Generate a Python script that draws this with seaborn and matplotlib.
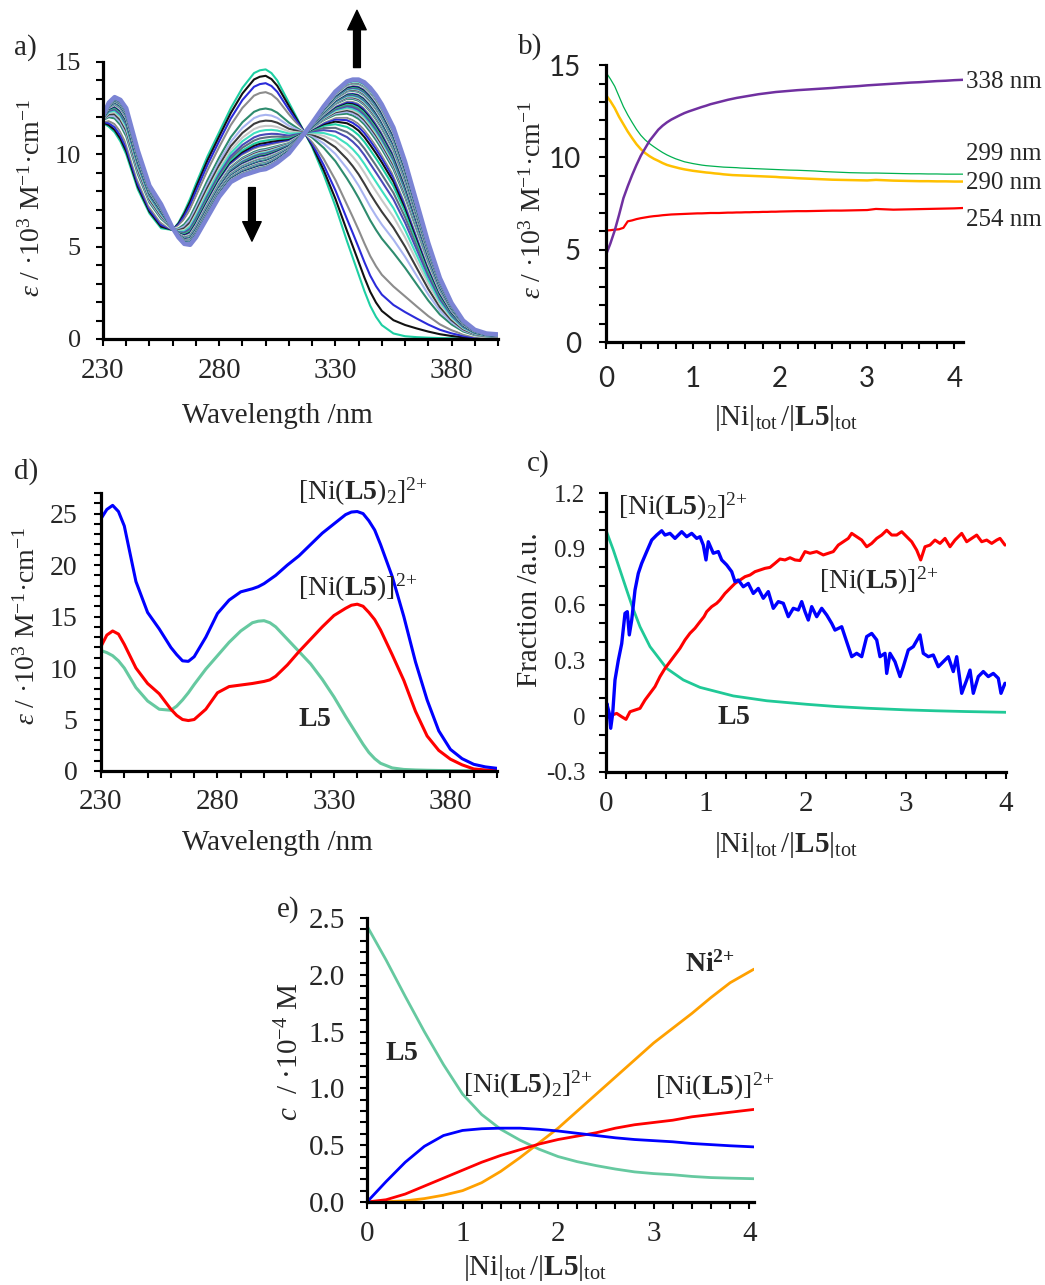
import numpy as np
import pandas as pd
import matplotlib
matplotlib.use("Agg")
import matplotlib.pyplot as plt
import seaborn as sns
from matplotlib.ticker import MultipleLocator, FuncFormatter

sns.set_style("ticks")
plt.rcParams["font.family"] = ["Liberation Serif", "DejaVu Serif"]
plt.rcParams["mathtext.fontset"] = "custom"
plt.rcParams["mathtext.rm"] = "Liberation Serif"
plt.rcParams["mathtext.it"] = "Liberation Serif:italic"
plt.rcParams["mathtext.bf"] = "Liberation Serif:bold"
plt.rcParams["axes.unicode_minus"] = False

# ---- spectra (wavelength, nm) ----
wl = [230, 232.5, 235, 237.5, 240, 245, 250, 255, 260, 262.5, 265, 267.5, 270, 275, 280, 285,
      290, 295, 297.5, 300, 302.5, 305, 310, 315, 320, 325, 330, 335, 337.5, 340, 342.5, 345,
      347.5, 350, 355, 360, 365, 370, 375, 380, 385, 390, 395, 400]

# free ligand L5
eps_L5 = [11.7, 11.5, 11.2, 10.7, 10.0, 8.1, 6.8, 6.0, 5.9, 6.3, 6.9, 7.6, 8.4, 9.9, 11.2, 12.5,
          13.6, 14.4, 14.55, 14.6, 14.4, 14.0, 12.8, 11.6, 10.4, 8.9, 7.2, 5.3, 4.4, 3.5, 2.6,
          1.8, 1.2, 0.75, 0.3, 0.15, 0.1, 0.07, 0.05, 0.04, 0.03, 0.02, 0.02, 0.01]
# last spectrum of the titration (panel a)
eps_end = [12.1, 12.8, 13.1, 12.95, 12.5, 10.2, 8.3, 7.3, 6.0, 5.5, 5.15, 5.1, 5.5, 6.6, 7.7,
           8.5, 8.85, 9.05, 9.15, 9.2, 9.35, 9.55, 10.05, 10.85, 11.7, 12.6, 13.4, 13.95, 14.05,
           14.05, 13.9, 13.6, 13.2, 12.7, 11.45, 9.6, 7.4, 5.2, 3.3, 1.95, 1.0, 0.5, 0.3, 0.25]
# [Ni(L5)2]2+
eps_NiL52 = [24.5, 25.4, 25.8, 25.2, 23.8, 18.4, 15.4, 13.8, 12.0, 11.3, 10.7, 10.65, 11.1, 13.0,
             15.3, 16.6, 17.4, 17.7, 17.9, 18.2, 18.6, 19.0, 20.0, 20.9, 22.0, 23.1, 24.0, 24.9,
             25.15, 25.2, 25.0, 24.3, 23.4, 22.0, 18.9, 15.0, 10.6, 6.9, 3.9, 2.1, 1.2, 0.65,
             0.4, 0.26]
# [Ni(L5)]2+
eps_NiL5 = [12.1, 13.2, 13.6, 13.3, 12.3, 10.0, 8.5, 7.5, 6.0, 5.4, 5.0, 4.9, 5.0, 6.0, 7.6, 8.2,
            8.35, 8.5, 8.6, 8.7, 8.85, 9.2, 10.3, 11.6, 12.8, 14.0, 15.1, 15.8, 16.1, 16.2, 16.0,
            15.4, 14.7, 13.7, 11.3, 8.8, 5.8, 3.4, 2.0, 1.15, 0.6, 0.2, 0.1, 0.05]

# ---- titration traces (panel b) ----
ratio_b = [0.0, 0.05, 0.1, 0.15, 0.2, 0.25, 0.3, 0.35, 0.4, 0.45, 0.5, 0.55, 0.6, 0.65, 0.7,
           0.75, 0.8, 0.85, 0.9, 0.95, 1.0, 1.05, 1.1, 1.15, 1.2, 1.25, 1.3, 1.35, 1.4, 1.45,
           1.5, 1.55, 1.6, 1.65, 1.7, 1.75, 1.8, 1.85, 1.9, 1.95, 2.0, 2.1, 2.2, 2.3, 2.4, 2.5,
           2.6, 2.7, 2.8, 2.9, 3.0, 3.1, 3.2, 3.3, 3.4, 3.5, 3.6, 3.7, 3.8, 3.9, 4.0, 4.1]
eps_338 = [4.74, 5.35, 6.05, 6.9, 7.8, 8.45, 9.05, 9.6, 10.1, 10.5, 10.9, 11.2, 11.5, 11.72,
           11.9, 12.05, 12.17, 12.29, 12.4, 12.49, 12.57, 12.65, 12.73, 12.8, 12.88, 12.94, 13.0,
           13.06, 13.12, 13.17, 13.22, 13.26, 13.3, 13.34, 13.38, 13.42, 13.45, 13.48, 13.51,
           13.54, 13.56, 13.6, 13.64, 13.67, 13.7, 13.73, 13.76, 13.8, 13.83, 13.86, 13.9,
           13.93, 13.96, 13.99, 14.02, 14.05, 14.07, 14.1, 14.13, 14.15, 14.18, 14.2]
eps_299 = [14.6, 14.25, 13.85, 13.3, 12.75, 12.3, 11.9, 11.52, 11.2, 10.95, 10.75, 10.58, 10.42,
           10.27, 10.14, 10.03, 9.93, 9.85, 9.77, 9.72, 9.67, 9.63, 9.59, 9.56, 9.54, 9.52, 9.5,
           9.48, 9.47, 9.46, 9.45, 9.43, 9.42, 9.41, 9.4, 9.39, 9.38, 9.37, 9.36, 9.35, 9.34,
           9.32, 9.31, 9.29, 9.27, 9.24, 9.22, 9.2, 9.18, 9.17, 9.16, 9.16, 9.15, 9.14, 9.13,
           9.12, 9.12, 9.11, 9.11, 9.1, 9.1, 9.1]
eps_290 = [13.37, 13.05, 12.67, 12.2, 11.8, 11.4, 11.05, 10.72, 10.45, 10.24, 10.07, 9.93, 9.82,
           9.7, 9.6, 9.53, 9.47, 9.41, 9.36, 9.32, 9.28, 9.25, 9.22, 9.19, 9.17, 9.14, 9.12,
           9.09, 9.07, 9.05, 9.04, 9.03, 9.02, 9.01, 9.0, 8.99, 8.98, 8.97, 8.96, 8.95, 8.93,
           8.91, 8.88, 8.86, 8.84, 8.82, 8.8, 8.79, 8.78, 8.77, 8.76, 8.79, 8.77, 8.75, 8.74,
           8.73, 8.72, 8.72, 8.71, 8.71, 8.7, 8.7]
eps_254 = [6.05, 6.07, 6.1, 6.12, 6.2, 6.55, 6.6, 6.67, 6.72, 6.76, 6.8, 6.83, 6.85, 6.88, 6.9,
           6.92, 6.93, 6.94, 6.95, 6.96, 6.97, 6.98, 6.98, 6.99, 7.0, 7.0, 7.0, 7.01, 7.02, 7.02,
           7.03, 7.03, 7.04, 7.04, 7.05, 7.05, 7.06, 7.06, 7.07, 7.07, 7.08, 7.09, 7.1, 7.1,
           7.11, 7.12, 7.13, 7.13, 7.14, 7.15, 7.16, 7.22, 7.2, 7.18, 7.19, 7.2, 7.21, 7.22,
           7.23, 7.24, 7.25, 7.27]

# ---- resolved fractions (panel c) ----
c_blue_r = [0.0, 0.007, 0.033, 0.047, 0.067, 0.09, 0.123, 0.157, 0.19, 0.213, 0.233, 0.257, 0.29,
            0.323, 0.357, 0.407, 0.457, 0.507, 0.557, 0.59, 0.64, 0.69, 0.757, 0.807, 0.857,
            0.907, 0.94, 0.973, 1.0, 1.023, 1.073, 1.123, 1.157, 1.207, 1.257, 1.29, 1.323,
            1.373, 1.423, 1.473, 1.523, 1.573, 1.623, 1.673, 1.723, 1.773, 1.823, 1.873, 1.923,
            1.957, 1.99, 2.023, 2.057, 2.107, 2.157, 2.207, 2.257, 2.29, 2.357, 2.407, 2.457,
            2.507, 2.557, 2.607, 2.657, 2.707, 2.74, 2.79, 2.807, 2.84, 2.89, 2.94, 2.973, 3.023,
            3.073, 3.14, 3.173, 3.223, 3.273, 3.323, 3.373, 3.423, 3.473, 3.507, 3.557, 3.607,
            3.64, 3.673, 3.723, 3.773, 3.823, 3.873, 3.923, 3.95, 3.99]
c_blue_v = [0.0, 0.07, 0.015, -0.065, 0.015, 0.195, 0.30, 0.39, 0.553, 0.562, 0.437, 0.517, 0.678,
            0.768, 0.822, 0.885, 0.947, 0.974, 0.997, 0.974, 0.983, 0.956, 0.992, 0.965, 0.983,
            0.956, 0.965, 0.92, 0.84, 0.938, 0.876, 0.885, 0.84, 0.813, 0.777, 0.723, 0.732,
            0.696, 0.714, 0.66, 0.687, 0.634, 0.67, 0.58, 0.616, 0.607, 0.535, 0.58, 0.571,
            0.616, 0.562, 0.517, 0.589, 0.535, 0.58, 0.544, 0.499, 0.463, 0.481, 0.40, 0.32,
            0.338, 0.32, 0.428, 0.445, 0.41, 0.32, 0.338, 0.23, 0.338, 0.293, 0.213, 0.266,
            0.356, 0.374, 0.437, 0.338, 0.32, 0.329, 0.266, 0.293, 0.32, 0.24, 0.32, 0.123,
            0.195, 0.248, 0.123, 0.213, 0.24, 0.213, 0.23, 0.204, 0.123, 0.177]
c_red_r = [0.0, 0.057, 0.107, 0.157, 0.2, 0.24, 0.29, 0.34, 0.39, 0.44, 0.49, 0.54, 0.59, 0.64,
           0.69, 0.74, 0.79, 0.84, 0.89, 0.94, 0.98, 1.007, 1.057, 1.107, 1.14, 1.19, 1.24, 1.29,
           1.34, 1.39, 1.44, 1.49, 1.54, 1.59, 1.64, 1.69, 1.74, 1.79, 1.84, 1.89, 1.94, 1.99,
           2.04, 2.107, 2.173, 2.223, 2.273, 2.323, 2.373, 2.423, 2.457, 2.507, 2.557, 2.607,
           2.657, 2.707, 2.757, 2.807, 2.857, 2.907, 2.957, 3.007, 3.057, 3.107, 3.147, 3.19,
           3.24, 3.29, 3.34, 3.39, 3.44, 3.49, 3.557, 3.607, 3.657, 3.707, 3.757, 3.807, 3.857,
           3.907, 3.94, 3.99]
c_red_v = [-0.01, 0.006, 0.015, -0.003, -0.017, 0.024, 0.033, 0.042, 0.087, 0.123, 0.159, 0.213,
           0.257, 0.293, 0.329, 0.365, 0.41, 0.446, 0.473, 0.508, 0.535, 0.562, 0.589, 0.607,
           0.625, 0.66, 0.687, 0.714, 0.732, 0.75, 0.759, 0.777, 0.786, 0.795, 0.80, 0.822,
           0.845, 0.84, 0.852, 0.84, 0.837, 0.885, 0.876, 0.885, 0.867, 0.876, 0.885, 0.92,
           0.938, 0.956, 0.983, 0.965, 0.947, 0.911, 0.929, 0.956, 0.974, 1.0, 0.974, 0.974,
           0.992, 0.965, 0.938, 0.893, 0.84, 0.911, 0.92, 0.947, 0.929, 0.956, 0.911, 0.947,
           0.983, 0.938, 0.956, 0.974, 0.938, 0.947, 0.929, 0.947, 0.956, 0.92]
c_green_r = [0.0, 0.0, 0.073, 0.14, 0.207, 0.263, 0.34, 0.44, 0.607, 0.773, 0.94, 1.273, 1.607,
             2.007, 2.3, 2.607, 3.0, 3.3, 3.6, 4.0]
c_green_v = [0.0, 1.0, 0.894, 0.786, 0.678, 0.589, 0.481, 0.374, 0.257, 0.195, 0.155, 0.109,
             0.083, 0.064, 0.052, 0.043, 0.034, 0.029, 0.025, 0.021]

# ---- speciation (panel e) ----
ratio_e = [0.0, 0.2, 0.4, 0.6, 0.8, 1.0, 1.2, 1.4, 1.6, 1.8, 2.0, 2.2, 2.4, 2.6, 2.8, 3.0, 3.2,
           3.4, 3.6, 3.8, 4.05]
conc_L5 = [2.43, 2.13, 1.81, 1.50, 1.21, 0.95, 0.77, 0.64, 0.545, 0.465, 0.40, 0.355, 0.32, 0.29,
           0.265, 0.25, 0.24, 0.225, 0.215, 0.21, 0.205]
conc_NiL52 = [0.0, 0.18, 0.35, 0.49, 0.585, 0.63, 0.645, 0.65, 0.65, 0.64, 0.625, 0.605, 0.585,
              0.565, 0.55, 0.54, 0.53, 0.515, 0.505, 0.495, 0.485]
conc_NiL5 = [0.0, 0.02, 0.07, 0.14, 0.21, 0.28, 0.35, 0.41, 0.46, 0.51, 0.55, 0.58, 0.61, 0.65,
             0.68, 0.70, 0.72, 0.75, 0.77, 0.79, 0.815]
conc_Ni = [0.0, 0.003, 0.01, 0.03, 0.06, 0.10, 0.17, 0.27, 0.39, 0.52, 0.65, 0.80, 0.95, 1.10,
           1.25, 1.40, 1.53, 1.66, 1.80, 1.93, 2.05]

W, H = 1045, 1285
fig = plt.figure(figsize=(W / 100, H / 100), dpi=100)


def add_axes(l, t, r, b):
    return fig.add_axes([l / W, 1 - b / H, (r - l) / W, (b - t) / H])


def style(ax, xfs, yfs, xpad, ypad):
    for s in ["top", "right"]:
        ax.spines[s].set_visible(False)
    for s in ["left", "bottom"]:
        ax.spines[s].set_linewidth(2.3)
        ax.spines[s].set_color("black")
    ax.tick_params(which="both", direction="out", width=1.5, length=5, color="black")
    ax.tick_params(axis="x", labelsize=xfs, pad=xpad)
    ax.tick_params(axis="y", labelsize=yfs, pad=ypad)


def put_label(ax, axis, text, cx, cy, size):
    p = ax.get_position()
    ax_x = (cx / W - p.x0) / p.width
    ax_y = ((1 - cy / H) - p.y0) / p.height
    if axis == "x":
        ax.set_xlabel(text, fontsize=size, va="center", ha="center")
        ax.xaxis.set_label_coords(ax_x, ax_y)
    else:
        ax.set_ylabel(text, fontsize=size, va="center", ha="center")
        ax.yaxis.set_label_coords(ax_x, ax_y)


def ftext(x, y, s, size=20, **kw):
    fig.text(x / W, 1 - y / H, s, fontsize=size, ha="left", va="center", **kw)


eps_label = r"$\varepsilon$ / ·10$^{3}$ M$^{-1}$·cm$^{-1}$"
ratio_label = r"$|\mathrm{Ni}|_{\mathrm{tot}}\,/|\mathbf{L5}|_{\mathrm{tot}}$"
sp2 = r"[Ni($\mathbf{L5}$)$_{2}$]$^{2{+}}$"
sp1 = r"[Ni($\mathbf{L5}$)]$^{2{+}}$"

# ================= a) =================
ax_a = add_axes(103, 62, 498, 339)
L5 = np.array(eps_L5)
END = np.array(eps_end)
e338 = np.array(eps_338)
frac = (e338 - e338[0]) / (e338[-1] - e338[0])
rows = []
for i, f in enumerate(frac):
    spec = L5 + f * (END - L5)
    for w, e in zip(wl, spec):
        rows.append({"wl": w, "eps": e, "curve": f"c{i:02d}"})
df_a = pd.DataFrame(rows)
cycle = ["#1ecfa3", "#111111", "#2b2bd9", "#8c8c8c", "#ffffff", "#2e8b6e", "#a8b4f0",
         "#3c3c3c", "#c8c8c8", "#3fe0c0", "#4a4ab8", "#607080"]
pal = [cycle[i % len(cycle)] for i in range(len(frac))]
sns.lineplot(data=df_a, x="wl", y="eps", hue="curve", palette=pal, linewidth=1.5,
             legend=False, estimator=None, sort=False, ax=ax_a)
sns.lineplot(x=wl, y=eps_end, color="#7b84d4", linewidth=3.2, estimator=None, ax=ax_a)
ax_a.set_xlim(230, 400)
ax_a.set_ylim(0, 15)
ax_a.set_xticks([230, 280, 330, 380])
ax_a.set_xticks(range(230, 401, 10), minor=True)
ax_a.yaxis.set_major_locator(MultipleLocator(5))
ax_a.yaxis.set_minor_locator(MultipleLocator(1))
style(ax_a, 21, 19, 9, 11)
put_label(ax_a, "x", "Wavelength /nm", 277, 416, 21)
put_label(ax_a, "y", eps_label, 32, 198, 20)
arrow = dict(arrowstyle="simple,head_width=0.95,head_length=1.0,tail_width=0.35",
             color="black", mutation_scale=14, shrinkA=0, shrinkB=0)
ax_a.annotate("", xy=(339.3, 17.8), xytext=(339.3, 14.7), arrowprops=arrow,
              annotation_clip=False)
ax_a.annotate("", xy=(294.1, 5.3), xytext=(294.1, 8.2), arrowprops=arrow,
              annotation_clip=False)
ftext(14, 48, "a)", 21)

# ================= b) =================
ax_b = add_axes(606, 65, 963, 342.5)
sns.lineplot(x=ratio_b, y=eps_299, color="#00b050", linewidth=0.9, ax=ax_b)
sns.lineplot(x=ratio_b, y=eps_290, color="#ffc000", linewidth=1.8, ax=ax_b)
sns.lineplot(x=ratio_b, y=eps_254, color="#ff0000", linewidth=1.6, ax=ax_b)
sns.lineplot(x=ratio_b, y=eps_338, color="#7030a0", linewidth=1.8, ax=ax_b)
ax_b.set_xlim(0, 4.1)
ax_b.set_ylim(0, 15)
ax_b.xaxis.set_major_locator(MultipleLocator(1))
ax_b.xaxis.set_minor_locator(MultipleLocator(0.2))
ax_b.yaxis.set_major_locator(MultipleLocator(5))
ax_b.yaxis.set_minor_locator(MultipleLocator(1))
style(ax_b, 20, 20, 12, 13)
ax_b.tick_params(labelfontfamily="Lato")
put_label(ax_b, "x", ratio_label, 786, 418, 21)
put_label(ax_b, "y", eps_label, 533, 200, 20)
for txt, y in [("338 nm", 82), ("299 nm", 154), ("290 nm", 183), ("254 nm", 220)]:
    ftext(966, y, txt, 18)
ftext(518, 47, "b)", 21)

# ================= d) =================
ax_d = add_axes(101, 493, 497, 771)
sns.lineplot(x=wl, y=eps_L5, color="#66c9a0", linewidth=2.2, ax=ax_d)
sns.lineplot(x=wl, y=eps_NiL5, color="#ff0000", linewidth=2.2, ax=ax_d)
sns.lineplot(x=wl, y=eps_NiL52, color="#0000ff", linewidth=2.2, ax=ax_d)
ax_d.set_xlim(230, 400)
ax_d.set_ylim(0, 27)
ax_d.set_xticks([230, 280, 330, 380])
ax_d.set_xticks(range(230, 401, 10), minor=True)
ax_d.yaxis.set_major_locator(MultipleLocator(5))
ax_d.yaxis.set_minor_locator(MultipleLocator(1))
style(ax_d, 21, 20, 8, 12)
put_label(ax_d, "x", "Wavelength /nm", 277, 843, 21)
put_label(ax_d, "y", eps_label, 27, 626, 20)
ftext(298, 492, sp2)
ftext(298, 588, sp1)
ftext(298, 720, r"$\mathbf{L5}$")
ftext(14, 472, "d)", 21)

# ================= c) =================
ax_c = add_axes(606, 493, 1006, 772)
sns.lineplot(x=c_green_r, y=c_green_v, color="#20c997", linewidth=2.0, sort=False,
             estimator=None, ax=ax_c)
sns.lineplot(x=c_red_r, y=c_red_v, color="#ff0000", linewidth=2.2, sort=False,
             estimator=None, ax=ax_c)
sns.lineplot(x=c_blue_r, y=c_blue_v, color="#0000ff", linewidth=2.4, sort=False,
             estimator=None, ax=ax_c)
ax_c.set_xlim(0, 4)
ax_c.set_ylim(-0.3, 1.2)
ax_c.xaxis.set_major_locator(MultipleLocator(1))
ax_c.xaxis.set_minor_locator(MultipleLocator(0.2))
ax_c.yaxis.set_major_locator(MultipleLocator(0.3))
ax_c.yaxis.set_minor_locator(MultipleLocator(0.1))
ax_c.yaxis.set_major_formatter(FuncFormatter(lambda v, p: "0" if abs(v) < 1e-9 else f"{v:.1f}"))
style(ax_c, 21, 18, 9, 10)
put_label(ax_c, "x", ratio_label, 786, 845, 21)
put_label(ax_c, "y", "Fraction /a.u.", 530, 610, 21)
ftext(618, 507, sp2)
ftext(819, 581, sp1)
ftext(717, 717, r"$\mathbf{L5}$")
ftext(527, 464, "c)", 21)

# ================= e) =================
ax_e = add_axes(367, 918, 754, 1202)
sns.lineplot(x=ratio_e, y=conc_L5, color="#66c9a0", linewidth=2.0, ax=ax_e)
sns.lineplot(x=ratio_e, y=conc_Ni, color="#ffa000", linewidth=2.0, ax=ax_e)
sns.lineplot(x=ratio_e, y=conc_NiL5, color="#ff0000", linewidth=2.0, ax=ax_e)
sns.lineplot(x=ratio_e, y=conc_NiL52, color="#0000ff", linewidth=2.0, ax=ax_e)
ax_e.set_xlim(0, 4.05)
ax_e.set_ylim(0, 2.5)
ax_e.xaxis.set_major_locator(MultipleLocator(1))
ax_e.xaxis.set_minor_locator(MultipleLocator(0.2))
ax_e.yaxis.set_major_locator(MultipleLocator(0.5))
ax_e.yaxis.set_minor_locator(MultipleLocator(0.1))
ax_e.yaxis.set_major_formatter(FuncFormatter(lambda v, p: f"{v:.1f}"))
style(ax_e, 21, 21, 9, 11)
put_label(ax_e, "x", ratio_label, 535, 1268, 21)
put_label(ax_e, "y", r"$c$  / ·10$^{-4}$ M", 290, 1052, 21)
ftext(385, 1053, r"$\mathbf{L5}$")
ftext(463, 1085, sp2)
ftext(655, 1087, sp1)
ftext(685, 964, r"$\mathbf{Ni}^{\mathbf{2{+}}}$")
ftext(277, 910, "e)", 21)

fig.savefig("out.png", dpi=100, facecolor="white")
